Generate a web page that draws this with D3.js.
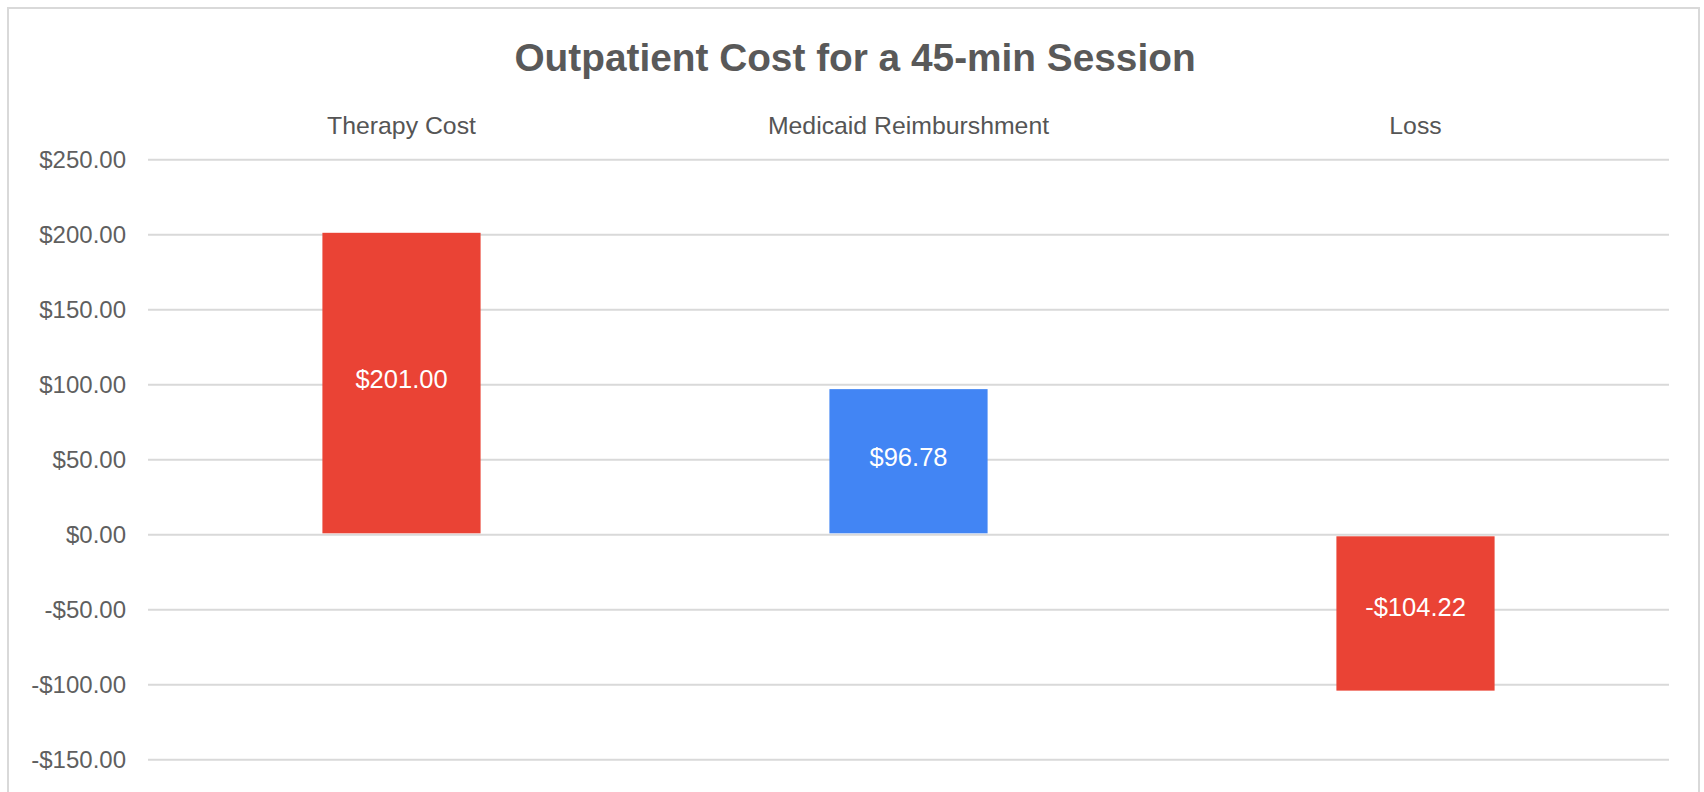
<!DOCTYPE html>
<html>
<head>
<meta charset="utf-8">
<title>Outpatient Cost for a 45-min Session</title>
<style>
body { margin: 0; background: #fff; }
svg text { font-family: "Liberation Sans", Arial, sans-serif; }
.grid line { stroke: #d9d9d9; stroke-width: 2; }
.grid .domain { display: none; }
.yaxis .domain, .xaxis .domain { display: none; }
.yaxis text { fill: #5f5f5f; font-size: 24px; }
.xaxis text { fill: #555; font-size: 24.8px; }
</style>
</head>
<body>
<svg width="1704" height="792"></svg>
<script src="https://d3js.org/d3.v7.min.js"></script>
<script>
// chart data
var categories = ["Therapy Cost", "Medicaid Reimburshment", "Loss"];
var values = [201.00, 96.78, -104.22];
var barColors = ["#ea4335", "#4285f4", "#ea4335"];
var tickValues = [-150, -100, -50, 0, 50, 100, 150, 200, 250];
var title = "Outpatient Cost for a 45-min Session";

var svg = d3.select("svg");
var left = 148, right = 1669;

// frame
svg.append("rect")
    .attr("x", 8).attr("y", 8)
    .attr("width", 1691).attr("height", 820)
    .attr("fill", "#fff")
    .attr("stroke", "#d9d9d9")
    .attr("stroke-width", 2);

var y = d3.scaleLinear()
    .domain([-150, 250])
    .range([759.3, 159.3]);

var x = d3.scaleBand()
    .domain(categories)
    .range([left, right])
    .paddingInner(0.688)
    .paddingOuter(0.344);

var fmt = function(v) {
  var s = "$" + d3.format(",.2f")(Math.abs(v));
  return v < 0 ? "-" + s : s;
};

// gridlines
svg.append("g")
    .attr("class", "grid")
    .attr("transform", "translate(" + left + ",0)")
    .call(d3.axisLeft(y).tickValues(tickValues).tickSize(-(right - left)).tickFormat(""));

// y axis labels
svg.append("g")
    .attr("class", "yaxis")
    .attr("transform", "translate(" + left + ",0)")
    .call(d3.axisLeft(y).tickValues(tickValues).tickSize(0).tickPadding(22).tickFormat(fmt))
  .selectAll("text")
    .attr("dy", "0.35em");

// category labels on top
svg.append("g")
    .attr("class", "xaxis")
    .attr("transform", "translate(0," + y(250) + ")")
    .call(d3.axisTop(x).tickSize(0).tickPadding(25));

// bars
svg.selectAll("rect.bar")
    .data(values)
  .enter().append("rect")
    .attr("class", "bar")
    .attr("x", function(d, i) { return x(categories[i]); })
    .attr("width", x.bandwidth())
    .attr("y", function(d) { return d >= 0 ? y(d) : y(0) + 2; })
    .attr("height", function(d) { return d >= 0 ? y(0) - y(d) - 1 : y(d) - y(0) - 2; })
    .attr("fill", function(d, i) { return barColors[i]; });

// value labels
svg.selectAll("text.val")
    .data(values)
  .enter().append("text")
    .attr("class", "val")
    .attr("x", function(d, i) { return x(categories[i]) + x.bandwidth() / 2; })
    .attr("y", function(d) { return (y(d) + y(0)) / 2 + 4; })
    .attr("text-anchor", "middle")
    .attr("fill", "#fff")
    .attr("font-size", "25.5px")
    .text(fmt);

// title
svg.append("text")
    .attr("x", 855)
    .attr("y", 71)
    .attr("text-anchor", "middle")
    .attr("fill", "#595959")
    .attr("font-size", "38.8px")
    .attr("font-weight", "bold")
    .text(title);
</script>
</body>
</html>
